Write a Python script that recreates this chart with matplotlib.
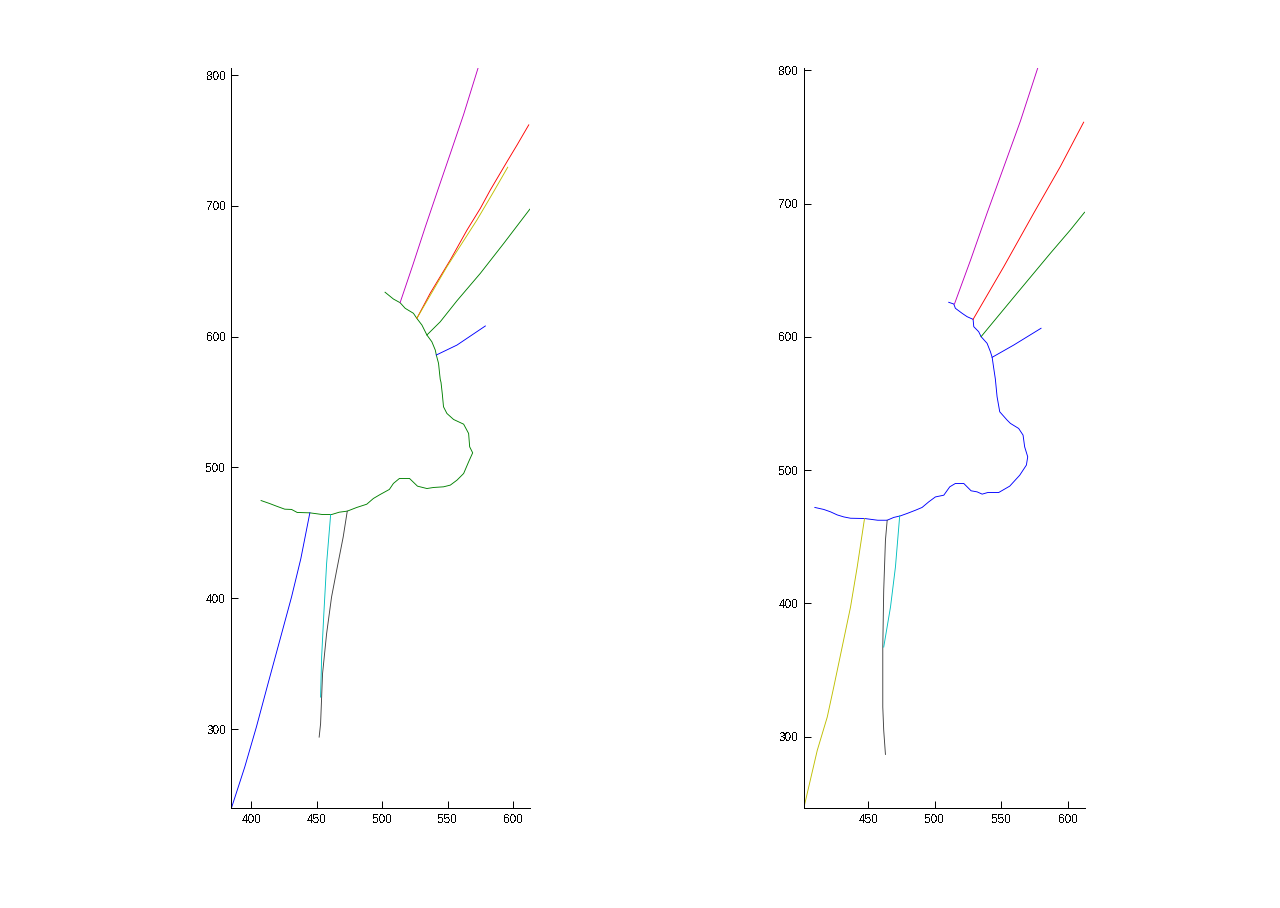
import matplotlib
matplotlib.use("Agg")
import matplotlib.pyplot as plt
import numpy as np

plt.rcParams['font.family'] = ['Liberation Sans', 'DejaVu Sans']
plt.rcParams['text.antialiased'] = False

# ---------------- Left panel data ----------------
left_contour_x = [502.2, 508.6, 513.7, 517.6, 523.9, 526.5, 530.4, 534.2, 538.0, 540.6, 541.4, 543.1,
                  543.9, 544.4, 545.0, 546.0, 546.9, 549.5, 554.6, 562.3, 566.1, 566.9, 569.2, 566.1,
                  562.3, 557.2, 552.1, 546.9, 539.3, 534.2, 527.0, 520.9, 513.2, 508.6, 505.5, 498.4,
                  493.3, 488.2, 480.5, 473.3, 467.2, 461.3, 454.4, 444.7, 435.0, 430.7, 425.5, 419.2,
                  414.0, 407.4]
left_contour_y = [634.0, 628.8, 626.0, 621.7, 617.9, 614.0, 608.9, 601.3, 596.1, 589.8, 586.0, 579.6,
                  571.9, 567.4, 565.0, 556.0, 546.4, 541.3, 536.7, 533.1, 526.0, 515.8, 511.2, 504.3,
                  495.4, 490.3, 486.5, 485.2, 484.7, 483.9, 485.7, 491.6, 491.6, 487.8, 483.2, 479.3,
                  476.3, 471.9, 469.4, 466.6, 465.8, 464.0, 464.0, 465.3, 465.6, 467.9, 468.1, 470.4,
                  472.4, 474.7]

left_magenta_x = [513.7, 523.5, 533.0, 542.5, 552.1, 562.3, 573.3]
left_magenta_y = [626.0, 655.0, 684.0, 712.0, 740.0, 770.0, 805.4]

left_red_x = [526.5, 536.7, 552.1, 564.9, 575.1, 582.7, 595.5, 603.2, 612.1]
left_red_y = [614.0, 633.2, 658.7, 681.6, 698.2, 712.2, 733.9, 746.7, 762.0]

left_yellow_x = [526.5, 549.5, 572.5, 585.3, 596.0]
left_yellow_y = [614.0, 653.5, 689.3, 711.0, 729.6]

left_green_x = [534.2, 544.4, 557.2, 575.1, 593.0, 612.9]
left_green_y = [601.3, 611.4, 627.5, 648.5, 671.4, 697.5]

left_bluebr_x = [541.4, 557.2, 578.9]
left_bluebr_y = [586.0, 593.6, 608.2]

left_blue_x = [444.7, 437.8, 430.7, 421.7, 412.7, 403.8, 394.9, 384.7]
left_blue_y = [465.3, 430.3, 401.0, 367.8, 334.7, 301.5, 270.9, 239.5]

left_cyan_x = [460.6, 457.5, 455.4, 453.7, 452.9]
left_cyan_y = [464.0, 426.5, 388.3, 355.0, 324.4]

left_gray_x = [473.3, 470.2, 465.2, 461.3, 457.5, 454.4, 452.9, 451.8]
left_gray_y = [466.6, 446.9, 421.4, 401.0, 372.9, 342.3, 304.0, 293.8]

# ---------------- Right panel data ----------------
right_contour_x = [510.5, 514.3, 515.5, 520.6, 524.3, 528.8, 529.3, 533.0, 534.8, 539.3, 541.8, 543.1,
                   544.3, 545.5, 546.8, 548.8, 554.3, 556.8, 563.0, 566.3, 567.5, 569.8, 568.8, 563.8,
                   556.3, 548.0, 539.8, 535.6, 531.8, 527.3, 521.8, 515.5, 511.3, 506.8, 500.5, 495.5,
                   490.5, 485.5, 479.3, 474.3, 469.2, 464.3, 457.2, 447.3, 436.8, 431.7, 426.8, 421.8,
                   416.7, 410.0]
right_contour_y = [626.0, 624.7, 621.5, 617.7, 615.2, 613.2, 607.7, 603.9, 600.2, 595.2, 588.9, 584.7,
                   576.4, 568.4, 555.1, 543.8, 537.6, 535.1, 531.3, 526.3, 517.5, 510.0, 503.8, 496.2,
                   488.0, 483.2, 483.2, 482.0, 483.7, 484.5, 490.0, 490.0, 487.5, 481.2, 479.9, 476.2,
                   472.0, 469.9, 467.5, 465.7, 464.5, 462.4, 462.4, 463.7, 463.9, 464.9, 466.4, 468.7,
                   470.5, 472.0]

right_magenta_x = [514.8, 527.0, 539.3, 551.8, 564.3, 577.3]
right_magenta_y = [624.7, 658.0, 693.0, 727.5, 762.0, 801.8]

right_red_x = [528.8, 551.8, 574.3, 594.3, 611.8]
right_red_y = [613.2, 652.7, 692.9, 727.9, 761.2]

right_green_x = [534.8, 561.8, 586.8, 601.8, 612.5]
right_green_y = [600.2, 632.8, 662.8, 680.3, 693.6]

right_bluebr_x = [543.1, 559.3, 579.8]
right_bluebr_y = [584.7, 593.9, 606.5]

right_yellow_x = [447.3, 441.8, 436.8, 430.5, 424.2, 419.3, 411.8, 401.7]
right_yellow_y = [463.7, 427.3, 397.3, 367.2, 337.2, 314.6, 289.6, 246.3]

right_gray_x = [464.3, 463.0, 461.7, 461.0, 461.0, 461.7, 463.0]
right_gray_y = [462.4, 447.4, 409.8, 367.2, 322.2, 304.7, 286.6]

right_cyan_x = [473.7, 470.5, 466.8, 461.7]
right_cyan_y = [465.7, 427.3, 397.3, 367.2]

# MATLAB classic colours
C_B = (0, 0, 1)
C_G = (0, 0.5, 0)
C_R = (1, 0, 0)
C_C = (0, 0.75, 0.75)
C_M = (0.75, 0, 0.75)
C_Y = (0.75, 0.75, 0)
C_K = (0.25, 0.25, 0.25)

left_series = [
    (left_contour_x, left_contour_y, C_G),
    (left_magenta_x, left_magenta_y, C_M),
    (left_red_x, left_red_y, C_R),
    (left_yellow_x, left_yellow_y, C_Y),
    (left_green_x, left_green_y, C_G),
    (left_bluebr_x, left_bluebr_y, C_B),
    (left_blue_x, left_blue_y, C_B),
    (left_cyan_x, left_cyan_y, C_C),
    (left_gray_x, left_gray_y, C_K),
]
right_series = [
    (right_contour_x, right_contour_y, C_B),
    (right_magenta_x, right_magenta_y, C_M),
    (right_red_x, right_red_y, C_R),
    (right_green_x, right_green_y, C_G),
    (right_bluebr_x, right_bluebr_y, C_B),
    (right_yellow_x, right_yellow_y, C_Y),
    (right_gray_x, right_gray_y, C_K),
    (right_cyan_x, right_cyan_y, C_C),
]

fig = plt.figure(figsize=(12.8, 9.08), dpi=100)
fig.patch.set_facecolor('white')

LW = 0.72  # one pixel at 100 dpi


def make_panel(rect, series, xticks, yticks):
    ax = fig.add_axes(rect)
    allx = np.concatenate([np.asarray(s[0]) for s in series])
    ally = np.concatenate([np.asarray(s[1]) for s in series])
    for xs, ys, col in series:
        ax.plot(xs, ys, color=col, lw=0.65, antialiased=True)
    ax.set_xlim(allx.min(), allx.max())
    ax.set_ylim(ally.min(), ally.max())
    ax.set_aspect('equal', adjustable='box', anchor='C')
    for s in ('top', 'right'):
        ax.spines[s].set_visible(False)
    for s in ('left', 'bottom'):
        ax.spines[s].set_linewidth(LW)
        ax.spines[s].set_antialiased(False)
    ax.set_xticks(xticks)
    ax.set_yticks(yticks)
    ax.tick_params(direction='in', length=5, width=LW, labelsize=8.5, pad=4, colors='black')
    ax.set_facecolor('white')
    return ax


make_panel([0.13, 0.11, 0.3347, 0.815], left_series, [400, 450, 500, 550, 600],
           [300, 400, 500, 600, 700, 800])
make_panel([0.5703, 0.11, 0.3347, 0.815], right_series, [450, 500, 550, 600],
           [300, 400, 500, 600, 700, 800])

fig.savefig('out.png', dpi=100, facecolor='white')
